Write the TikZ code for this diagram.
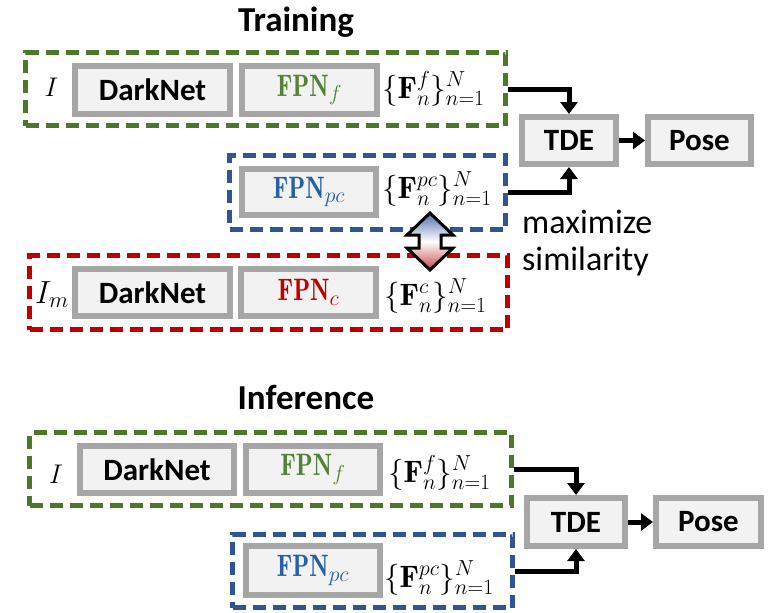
\RequirePackage{fix-cm}
\documentclass[tikz,border=0pt]{standalone}
\usepackage{fontspec}
\usepackage{graphicx}
\newfontfamily\calibri{Carlito}
\usetikzlibrary{arrows.meta}

\definecolor{grn}{RGB}{77,119,41}
\definecolor{grntxt}{RGB}{84,130,53}
\definecolor{blu}{RGB}{47,85,151}
\definecolor{blutxt}{RGB}{38,96,165}
\definecolor{rd}{RGB}{192,0,0}
\definecolor{boxgray}{RGB}{166,166,166}
\definecolor{boxfill}{RGB}{242,242,242}
\definecolor{arrtop}{RGB}{84,112,172}
\definecolor{arrbot}{RGB}{204,68,68}

\newcommand{\fpn}[2]{\textcolor{#1}{\scalebox{0.8}[1]{$\mathbf{FPN}$}$_{#2}$}}
\newcommand{\feat}[1]{$\{\mathbf{F}_n^{#1}\}_{n=1}^N$}

\tikzset{
  blk/.style={draw=boxgray, fill=boxfill, line width=6pt, inner sep=0pt,
    font=\calibri\bfseries\fontsize{31}{36}\selectfont},
  grp/.style={draw=#1, line width=4.5pt, dash pattern=on 13pt off 7pt, inner sep=0pt},
  ttl/.style={font=\calibri\bfseries\fontsize{35}{40}\selectfont, anchor=base},
  mth/.style={font=\fontsize{31}{36}\selectfont, inner sep=0pt, anchor=base west},
  link/.style={line width=5pt, -{Triangle[length=12pt,width=17pt]}},
}

\begin{document}
\begin{tikzpicture}[x=1pt,y=-1pt]
\useasboundingbox (0,0) rectangle (769,613);

\node[ttl] (ttrain) at (296,31) {Training};

\node[grp=grn, minimum width=480pt, minimum height=73pt] (gtr) at (265.5,89) {};
\node[font=\fontsize{27}{30}\selectfont, anchor=base] (itr) at (51.5,96) {$I$};
\node[blk, minimum width=155pt, minimum height=48pt] (dn1) at (152.5,90) {DarkNet};
\node[blk, minimum width=135pt, minimum height=48pt] (fpnf1) at (309.5,90) {\fpn{grntxt}{f}};
\node[mth] (setf1) at (382,98) {\feat{f}};

\node[grp=blu, minimum width=276pt, minimum height=74pt] (btr) at (367.5,192.5) {};
\node[blk, minimum width=134pt, minimum height=46pt] (fpnpc1) at (309,192) {\fpn{blutxt}{pc}};
\node[mth] (setpc1) at (382,198) {\feat{pc}};

\node[grp=rd, minimum width=478pt, minimum height=74pt] (rtr) at (268.5,292.5) {};
\node[font=\fontsize{32}{36}\selectfont, anchor=base] (imtr) at (52,303) {$I_m$};
\node[blk, minimum width=155pt, minimum height=47pt] (dn2) at (152.5,292.5) {DarkNet};
\node[blk, minimum width=135pt, minimum height=47pt] (fpnc) at (308.5,292.5) {\fpn{rd}{c}};
\node[mth] (setc) at (384,305) {\feat{c}};

\node[blk, minimum width=94pt, minimum height=47pt] (tde1) at (569,140.5) {TDE};
\node[blk, minimum width=103pt, minimum height=47pt] (pose1) at (699.5,140.5) {Pose};
\node[font=\calibri\fontsize{34}{37}\selectfont, align=left, anchor=base west, inner sep=0pt] (simtxt) at (522,270) {maximize\\similarity};

\filldraw[draw=black, line width=3pt, top color=arrtop, bottom color=arrbot, middle color=white]
  (430,213) -- (453,235) -- (441,235) -- (441,248) -- (453,248) -- (430,270)
  -- (407,248) -- (419,248) -- (419,235) -- (407,235) -- cycle;

\draw[link] (gtr.east) -| (tde1.north);
\draw[link] (btr.east) -| (tde1.south);
\draw[link] (tde1) -- (pose1);

\node[ttl] (tinfer) at (306,409) {Inference};

\node[grp=grn, minimum width=482pt, minimum height=73pt] (gin) at (270.5,469) {};
\node[font=\fontsize{27}{30}\selectfont, anchor=base] (iin) at (56,483) {$I$};
\node[blk, minimum width=154pt, minimum height=47pt] (dn3) at (157,469.5) {DarkNet};
\node[blk, minimum width=134pt, minimum height=47pt] (fpnf2) at (313,469.5) {\fpn{grntxt}{f}};
\node[mth] (setf2) at (388,482) {\feat{f}};

\node[grp=blu, minimum width=280pt, minimum height=73pt] (bin) at (372.5,571) {};
\node[blk, minimum width=134pt, minimum height=49pt] (fpnpc2) at (313,570.5) {\fpn{blutxt}{pc}};
\node[mth] (setpc2) at (384,587) {\feat{pc}};

\node[blk, minimum width=98pt, minimum height=48pt] (tde2) at (576,522) {TDE};
\node[blk, minimum width=105pt, minimum height=48pt] (pose2) at (708.5,522) {Pose};

\draw[link] (gin.east) -| (tde2.north);
\draw[link] (bin.east) -| (tde2.south);
\draw[link] (tde2) -- (pose2);
\end{tikzpicture}
\end{document}
